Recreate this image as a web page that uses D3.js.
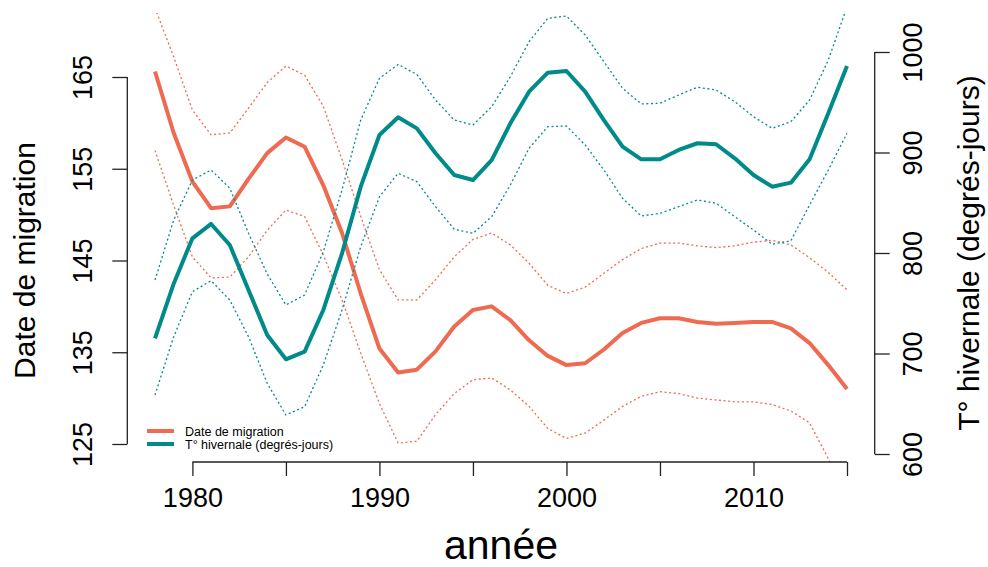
<!DOCTYPE html>
<html>
<head>
<meta charset="utf-8">
<script src="https://cdn.jsdelivr.net/npm/d3@7"></script>
<style>
  body { margin: 0; background: #fff; }
  text { font-family: "Liberation Sans", Arial, sans-serif; }
</style>
</head>
<body>
<div id="chart"></div>
<script>
const years = [1978, 1979, 1980, 1981, 1982, 1983, 1984, 1985, 1986, 1987,
  1988, 1989, 1990, 1991, 1992, 1993, 1994, 1995, 1996, 1997,
  1998, 1999, 2000, 2001, 2002, 2003, 2004, 2005, 2006, 2007,
  2008, 2009, 2010, 2011, 2012, 2013, 2014, 2015];

// date de migration (axe gauche)
const dateMig = [165.6, 158.9, 153.6, 150.7, 150.9, 153.9, 156.7, 158.4, 157.4, 153.2,
  148.0, 141.4, 135.4, 132.8, 133.1, 135.1, 137.8, 139.6, 140.0, 138.5,
  136.3, 134.6, 133.6, 133.8, 135.3, 137.1, 138.2, 138.7, 138.7, 138.3,
  138.1, 138.2, 138.3, 138.3, 137.6, 136.0, 133.6, 131.0];
const migHigh = [172.5, 167.2, 161.4, 158.7, 158.9, 161.6, 164.4, 166.2, 165.2, 161.8,
  156.0, 149.8, 144.0, 140.7, 140.7, 142.9, 145.4, 147.3, 148.0, 146.7,
  144.7, 142.3, 141.4, 142.1, 143.6, 145.1, 146.3, 146.9, 146.9, 146.6,
  146.4, 146.6, 147.0, 147.2, 146.7, 145.3, 143.7, 141.8];
const migLow = [157.0, 151.0, 145.4, 143.1, 143.2, 145.4, 148.3, 150.5, 149.8, 145.6,
  140.7, 134.9, 129.4, 125.1, 125.3, 128.2, 130.5, 132.0, 132.2, 130.9,
  129.1, 126.7, 125.6, 126.2, 127.6, 129.1, 130.2, 130.7, 130.5, 130.0,
  129.8, 129.6, 129.6, 129.3, 128.6, 127.3, 123.4, 119.0];

// T° hivernale (axe droit)
const temp = [715.1, 769.5, 814.6, 828.9, 808.0, 763.2, 718.4, 694.2, 701.8, 743.3,
  799.7, 866.0, 917.4, 935.0, 924.0, 899.2, 877.6, 872.6, 892.5, 929.0,
  960.5, 979.4, 981.1, 960.5, 932.3, 905.8, 893.2, 893.2, 902.5, 909.2,
  908.2, 894.2, 877.6, 866.0, 870.0, 893.2, 939.0, 986.1];
const tempHigh = [773.1, 832.8, 872.6, 882.6, 864.4, 819.6, 779.1, 748.3, 758.2, 801.3,
  862.7, 932.3, 973.8, 987.6, 977.7, 952.2, 932.3, 927.4, 945.6, 975.4,
  1010.3, 1033.5, 1035.8, 1016.9, 990.4, 963.9, 948.3, 949.0, 957.2, 964.9,
  962.2, 950.5, 935.6, 924.1, 930.7, 952.2, 992.0, 1045.0];
const tempLow = [658.7, 716.7, 761.5, 772.4, 753.2, 716.7, 670.3, 638.8, 647.1, 688.6,
  743.3, 806.3, 856.0, 879.3, 871.0, 846.1, 823.6, 819.6, 836.1, 867.7,
  904.2, 925.7, 926.4, 907.5, 882.6, 854.4, 836.8, 839.5, 846.1, 852.7,
  849.5, 836.1, 822.9, 808.7, 812.2, 847.8, 882.6, 919.1];

const xTicks = [1980, 1985, 1990, 1995, 2000, 2005, 2010, 2015];
const xLabels = [1980, 1990, 2000, 2010];
const leftTicks = [125, 135, 145, 155, 165];
const rightTicks = [600, 700, 800, 900, 1000];

const orange = "#EE6A50", teal = "#008B8B";
const W = 988, H = 567;
const plot = { left: 127.3, right: 874.7, top: 13, bottom: 462 };

const x = d3.scaleLinear().domain([1978, 2015]).range([155, 847]);
const yL = d3.scaleLinear().domain([125, 165]).range([444, 77]);
const yR = d3.scaleLinear().domain([600, 1000]).range([454, 52]);

const svg = d3.select("#chart").append("svg")
  .attr("width", W)
  .attr("height", H);

svg.append("defs").append("clipPath")
  .attr("id", "clip")
  .append("rect")
  .attr("x", plot.left).attr("y", plot.top)
  .attr("width", plot.right - plot.left)
  .attr("height", plot.bottom - plot.top);

const curves = svg.append("g").attr("clip-path", "url(#clip)");

function drawLine(values, y, color, width, dashed) {
  const line = d3.line()
    .x((d, i) => x(years[i]))
    .y(d => y(d));
  curves.append("path")
    .datum(values)
    .attr("fill", "none")
    .attr("stroke", color)
    .attr("stroke-width", width)
    .attr("stroke-linejoin", "round")
    .attr("stroke-dasharray", dashed ? "2,2.6" : null)
    .attr("d", line);
}

drawLine(migHigh, yL, orange, 1.3, true);
drawLine(migLow, yL, orange, 1.3, true);
drawLine(dateMig, yL, orange, 4, false);
drawLine(tempHigh, yR, teal, 1.3, true);
drawLine(tempLow, yR, teal, 1.3, true);
drawLine(temp, yR, teal, 4, false);

// axes
const axisColor = "#222";
const tickFont = "27px";

const gx = svg.append("g")
  .attr("transform", `translate(0,${plot.bottom})`)
  .call(d3.axisBottom(x).tickValues(xTicks).tickSize(14).tickSizeOuter(0)
    .tickFormat(d => xLabels.includes(d) ? d : ""));
gx.select(".domain").attr("d", `M${x(1980)},0H${x(2015)}`);
gx.selectAll("line, path").attr("stroke", axisColor).attr("stroke-width", 1.3);
gx.selectAll("text")
  .attr("y", 45)
  .attr("dy", null)
  .style("font-size", tickFont)
  .attr("fill", "#000");

const gl = svg.append("g")
  .attr("transform", `translate(${plot.left},0)`)
  .call(d3.axisLeft(yL).tickValues(leftTicks).tickSize(15).tickSizeOuter(0).tickFormat(d => d));
gl.select(".domain").attr("d", `M0,${yL(125)}V${yL(165)}`);
gl.selectAll("line, path").attr("stroke", axisColor).attr("stroke-width", 1.3);
gl.selectAll("text")
  .attr("x", null).attr("dy", null)
  .attr("text-anchor", "middle")
  .attr("transform", "translate(-35.5,0) rotate(-90)")
  .style("font-size", tickFont)
  .attr("fill", "#000");

const gr = svg.append("g")
  .attr("transform", `translate(${plot.right},0)`)
  .call(d3.axisRight(yR).tickValues(rightTicks).tickSize(15).tickSizeOuter(0).tickFormat(d => d));
gr.select(".domain").attr("d", `M0,${yR(600)}V${yR(1000)}`);
gr.selectAll("line, path").attr("stroke", axisColor).attr("stroke-width", 1.3);
gr.selectAll("text")
  .attr("x", null).attr("dy", null)
  .attr("text-anchor", "middle")
  .attr("transform", "translate(47,0) rotate(-90)")
  .style("font-size", tickFont)
  .attr("fill", "#000");

// titres des axes
svg.append("text")
  .attr("transform", `translate(35,${(yL(125) + yL(165)) / 2}) rotate(-90)`)
  .attr("text-anchor", "middle")
  .style("font-size", "30px")
  .text("Date de migration");

svg.append("text")
  .attr("transform", `translate(979,${(yR(600) + yR(1000)) / 2}) rotate(-90)`)
  .attr("text-anchor", "middle")
  .style("font-size", "30px")
  .text("T° hivernale (degrés-jours)");

svg.append("text")
  .attr("x", (plot.left + plot.right) / 2)
  .attr("y", 559)
  .attr("text-anchor", "middle")
  .style("font-size", "41px")
  .text("année");

// légende
const legend = svg.append("g").attr("transform", "translate(147,431)");
[["Date de migration", orange], ["T° hivernale (degrés-jours)", teal]].forEach(([label, color], i) => {
  legend.append("line")
    .attr("x1", 0).attr("x2", 27)
    .attr("y1", i * 13).attr("y2", i * 13)
    .attr("stroke", color).attr("stroke-width", 4);
  legend.append("text")
    .attr("x", 38).attr("y", i * 13 + 4.5)
    .style("font-size", "12.5px")
    .text(label);
});
</script>
</body>
</html>
